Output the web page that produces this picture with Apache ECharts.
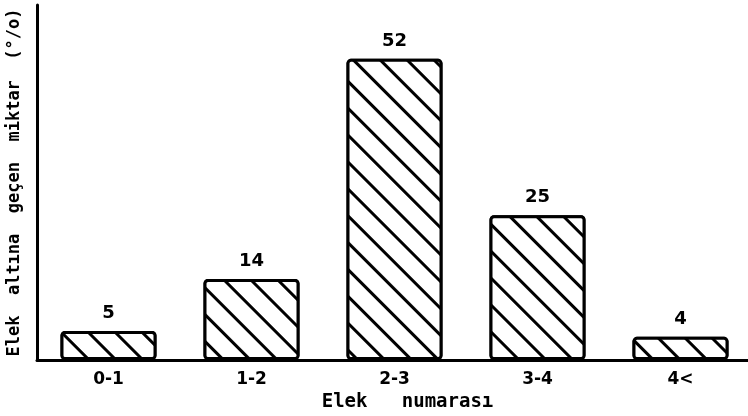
<!DOCTYPE html>
<html>
<head>
<meta charset="utf-8">
<script src="https://cdn.jsdelivr.net/npm/echarts@6/dist/echarts.min.js"></script>
<style>
  html, body { margin: 0; padding: 0; background: #fff; }
  #chart { width: 748px; height: 416px; }
</style>
</head>
<body>
<div id="chart"></div>
<script>
// elek numaraları ve geçen miktarlar (%)
var categories = ["0-1", "1-2", "2-3", "3-4", "4<"];
var values = [5, 14, 52, 25, 4];

var chart = echarts.init(document.getElementById("chart"), null, { renderer: "canvas" });

var fontFam = "DejaVu Sans";
var monoFam = "DejaVu Sans Mono";

chart.setOption({
  backgroundColor: "#fff",
  animation: false,
  aria: { enabled: true, decal: { show: true } },
  grid: {
    left: 37,
    top: 5,
    width: 715,
    bottom: 56,
    containLabel: false,
    outerBoundsMode: "none"
  },
  xAxis: {
    type: "category",
    data: categories,
    name: "Elek   numarası",
    nameLocation: "middle",
    nameGap: 32,
    nameTextStyle: {
      color: "#000",
      fontFamily: monoFam,
      fontWeight: "bold",
      fontSize: 19,
      padding: [0, 0, 0, 26]
    },
    axisLine: { lineStyle: { color: "#000", width: 3 } },
    axisTick: { show: false },
    axisLabel: {
      color: "#000",
      fontFamily: fontFam,
      fontWeight: "bold",
      fontSize: 17,
      margin: 11
    }
  },
  yAxis: {
    type: "value",
    min: 0,
    max: 61.3,
    name: "Elek  altına  geçen  miktar  (°/o)",
    nameLocation: "middle",
    nameGap: 14,
    nameTextStyle: {
      color: "#000",
      fontFamily: monoFam,
      fontWeight: "bold",
      fontSize: 17
    },
    axisLine: { show: true, lineStyle: { color: "#000", width: 3 } },
    axisTick: { show: false },
    axisLabel: { show: false },
    splitLine: { show: false }
  },
  series: [
    {
      type: "bar",
      data: values,
      barWidth: 96,
      itemStyle: {
        color: "#fff",
        borderColor: "#000",
        borderWidth: 3,
        borderRadius: 3,
        decal: {
          symbol: "rect",
          symbolSize: 1,
          dashArrayX: [1, 0],
          dashArrayY: [2.4, 15.4],
          rotation: Math.PI / 4,
          color: "#000",
          backgroundColor: "#fff"
        }
      },
      label: {
        show: true,
        position: "top",
        distance: 9,
        color: "#000",
        fontFamily: fontFam,
        fontWeight: "bold",
        fontSize: 18
      }
    }
  ]
});
</script>
</body>
</html>
